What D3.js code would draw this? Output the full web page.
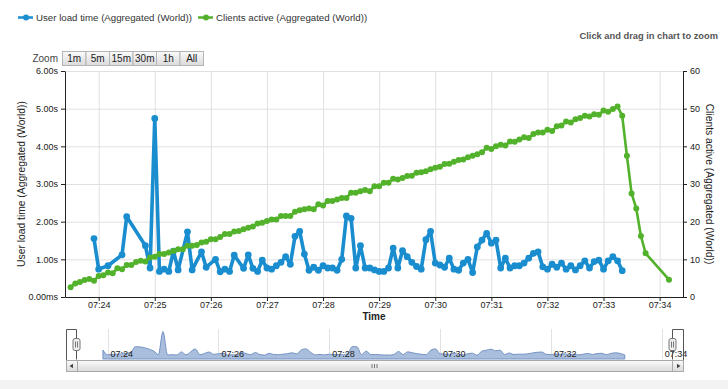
<!DOCTYPE html>
<html><head><meta charset="utf-8">
<script src="https://cdn.jsdelivr.net/npm/d3@7"></script>
<style>body{margin:0;background:#fff;overflow:hidden}svg{display:block}</style>
</head><body><svg id="c" width="728" height="389"></svg>
<script>
// ---------- data ----------
const seriesNames = ["User load time (Aggregated (World))", "Clients active (Aggregated (World))"];
const loadTimes = ["07:23:55","07:24:00","07:24:10","07:24:25","07:24:30","07:24:50","07:24:55",
"07:25:00","07:25:05","07:25:10","07:25:15","07:25:20","07:25:25","07:25:35","07:25:40","07:25:50","07:25:55",
"07:26:05","07:26:10","07:26:15","07:26:20","07:26:25","07:26:35","07:26:40","07:26:45","07:26:50","07:26:55",
"07:27:00","07:27:05","07:27:10","07:27:15","07:27:20","07:27:25","07:27:30","07:27:35","07:27:40","07:27:45","07:27:50","07:27:55",
"07:28:00","07:28:05","07:28:10","07:28:15","07:28:20","07:28:25","07:28:30","07:28:35","07:28:40","07:28:45","07:28:50","07:28:55",
"07:29:00","07:29:05","07:29:10","07:29:15","07:29:20","07:29:25","07:29:30","07:29:35","07:29:40","07:29:45","07:29:50","07:29:55",
"07:30:00","07:30:05","07:30:10","07:30:15","07:30:20","07:30:25","07:30:30","07:30:35","07:30:40","07:30:45","07:30:50","07:30:55",
"07:31:00","07:31:05","07:31:10","07:31:15","07:31:20","07:31:25","07:31:30","07:31:35","07:31:40","07:31:45","07:31:50","07:31:55",
"07:32:00","07:32:05","07:32:10","07:32:15","07:32:20","07:32:25","07:32:30","07:32:35","07:32:40","07:32:45","07:32:50","07:32:55",
"07:33:00","07:33:05","07:33:10","07:33:15","07:33:20"];
const loadValues = [1.55,0.74,0.83,1.12,2.13,1.36,0.77,
4.74,0.68,0.74,0.68,1.22,0.72,1.73,0.72,1.20,0.79,
1.00,0.67,0.74,0.68,1.11,0.76,1.12,0.76,0.68,0.98,
0.77,0.74,0.83,0.92,1.07,0.87,1.61,1.74,1.14,0.71,0.79,0.71,
0.83,0.77,0.77,0.71,1.00,2.15,2.09,0.77,1.36,0.77,0.77,0.72,
0.68,0.68,0.77,1.30,0.77,1.23,1.07,0.92,0.81,0.74,1.52,1.74,
0.90,0.85,0.79,1.03,0.74,0.71,0.90,1.00,0.65,1.33,1.51,1.69,
1.43,1.51,0.77,1.03,0.77,0.83,0.83,0.90,1.03,1.16,1.20,0.80,
0.74,0.87,0.79,0.90,0.74,0.83,0.72,0.83,0.96,0.77,0.94,0.98,
0.74,0.96,1.07,0.96,0.70];

const clientTimes = ["07:23:30","07:23:35","07:23:40","07:23:45","07:23:50","07:23:55",
"07:24:00","07:24:05","07:24:10","07:24:15","07:24:20","07:24:25","07:24:30","07:24:35","07:24:40","07:24:45","07:24:50","07:24:55",
"07:25:00","07:25:05","07:25:10","07:25:15","07:25:20","07:25:25","07:25:30","07:25:35","07:25:40","07:25:45","07:25:50","07:25:55",
"07:26:00","07:26:05","07:26:10","07:26:15","07:26:20","07:26:25","07:26:30","07:26:35","07:26:40","07:26:45","07:26:50","07:26:55",
"07:27:00","07:27:05","07:27:10","07:27:15","07:27:20","07:27:25","07:27:30","07:27:35","07:27:40","07:27:45","07:27:50","07:27:55",
"07:28:00","07:28:05","07:28:10","07:28:15","07:28:20","07:28:25","07:28:30","07:28:35","07:28:40","07:28:45","07:28:50","07:28:55",
"07:29:00","07:29:05","07:29:10","07:29:15","07:29:20","07:29:25","07:29:30","07:29:35","07:29:40","07:29:45","07:29:50","07:29:55",
"07:30:00","07:30:05","07:30:10","07:30:15","07:30:20","07:30:25","07:30:30","07:30:35","07:30:40","07:30:45","07:30:50","07:30:55",
"07:31:00","07:31:05","07:31:10","07:31:15","07:31:20","07:31:25","07:31:30","07:31:35","07:31:40","07:31:45","07:31:50","07:31:55",
"07:32:00","07:32:05","07:32:10","07:32:15","07:32:20","07:32:25","07:32:30","07:32:35","07:32:40","07:32:45","07:32:50","07:32:55",
"07:33:00","07:33:05","07:33:10","07:33:15","07:33:20","07:33:25","07:33:30","07:33:35","07:33:40","07:33:45","07:34:10"];
const clientValues = [2.6,3.6,4.0,4.5,4.8,4.3,
5.6,5.8,6.5,6.3,7.6,7.4,8.5,8.5,9.3,9.6,9.4,10.5,
10.7,11.4,11.4,11.8,12.2,12.7,12.7,13.6,13.6,13.8,14.5,14.7,
15.3,15.3,15.9,16.7,16.7,17.4,17.5,18.0,18.4,18.7,19.5,19.7,
20.2,20.6,20.6,21.5,21.5,21.5,22.6,23.0,23.3,23.5,23.3,24.6,
24.3,25.5,25.5,25.9,26.3,26.3,27.7,27.7,28.1,28.4,28.1,29.4,
29.4,30.3,30.3,31.4,31.2,31.6,32.1,32.2,33.0,33.1,33.4,33.9,
34.3,34.6,35.3,35.4,35.9,36.4,36.5,37.1,37.5,37.9,38.4,39.6,
39.3,40.0,40.4,40.2,41.3,41.2,41.8,42.4,42.2,43.3,43.7,43.7,
44.4,44.1,45.3,45.5,46.6,46.3,47.2,47.5,48.1,47.9,48.5,48.4,
49.5,49.2,49.9,50.6,48.1,37.5,27.5,23.5,16.2,11.6,4.6];

const leftTicks = [0,1,2,3,4,5,6];
const leftTickLabels = ["0.00ms","1.00s","2.00s","3.00s","4.00s","5.00s","6.00s"];
const rightTicks = [0,10,20,30,40,50,60];
const xTickLabels = ["07:24","07:25","07:26","07:27","07:28","07:29","07:30","07:31","07:32","07:33","07:34"];
const navTickLabels = ["07:24","07:26","07:28","07:30","07:32","07:34"];
const xDomain = ["07:23:24","07:34:25"];
const navDomain = ["07:23:15","07:34:23"];
const zoomButtons = ["1m","5m","15m","30m","1h","All"];

// ---------- drawing ----------
const FONT = '"Liberation Sans", Arial, sans-serif';
const BLUE = "#1a8dcf", GREEN = "#52b22b";
const parseT = d3.timeParse("%H:%M:%S"), parseM = d3.timeParse("%H:%M");
const svg = d3.select("#c").style("font-family", FONT);

const P = {l:65, r:683, t:71, b:297};
const x = d3.scaleTime().domain(xDomain.map(parseT)).range([P.l, P.r]);
const yL = d3.scaleLinear().domain([0,6]).range([P.b, P.t]);
const yR = d3.scaleLinear().domain([0,60]).range([P.b, P.t]);
const xTicks = xTickLabels.map(parseM);

// defs
const defs = svg.append("defs");
const gr = defs.append("linearGradient").attr("id","btn").attr("x1",0).attr("y1",0).attr("x2",0).attr("y2",1);
gr.append("stop").attr("offset","0").attr("stop-color","#fbfbfb");
gr.append("stop").attr("offset","1").attr("stop-color","#dadada");

// bottom grey band
svg.append("rect").attr("x",0).attr("y",380).attr("width",728).attr("height",9).attr("fill","#f3f3f3");

// grid
svg.append("g").attr("transform",`translate(0,${P.b})`)
  .call(d3.axisBottom(x).tickValues(xTicks).tickSize(-(P.b-P.t)).tickFormat(""))
  .call(g=>{g.select(".domain").remove(); g.selectAll("line").attr("stroke","#e0e0e0");});
svg.append("g").attr("transform",`translate(${P.l},0)`)
  .call(d3.axisLeft(yL).tickValues(leftTicks).tickSize(-(P.r-P.l)).tickFormat(""))
  .call(g=>{g.select(".domain").remove(); g.selectAll("line").attr("stroke","#e0e0e0");});

// series
const loadData = loadTimes.map((t,i)=>({t:parseT(t), v:loadValues[i]}));
const clientData = clientTimes.map((t,i)=>({t:parseT(t), v:clientValues[i]}));

svg.append("path").datum(loadData)
  .attr("d", d3.line().x(d=>x(d.t)).y(d=>yL(d.v)))
  .attr("fill","none").attr("stroke",BLUE).attr("stroke-width",3.6).attr("stroke-linejoin","round");
svg.append("g").selectAll("circle").data(loadData).join("circle")
  .attr("cx",d=>x(d.t)).attr("cy",d=>yL(d.v)).attr("r",3.4).attr("fill",BLUE);

svg.append("path").datum(clientData)
  .attr("d", d3.line().x(d=>x(d.t)).y(d=>yR(d.v)))
  .attr("fill","none").attr("stroke",GREEN).attr("stroke-width",2.6).attr("stroke-linejoin","round");
svg.append("g").selectAll("circle").data(clientData).join("circle")
  .attr("cx",d=>x(d.t)).attr("cy",d=>yR(d.v)).attr("r",3.0).attr("fill",GREEN);

// axes
function styleAxis(g){
  g.select(".domain").attr("stroke","#222");
  g.selectAll(".tick line").attr("stroke","#222");
  g.selectAll(".tick text").attr("fill","#222").style("font-size","9px").style("font-family",FONT);
}
svg.append("g").attr("transform",`translate(${P.l},0)`)
  .call(d3.axisLeft(yL).tickValues(leftTicks).tickFormat((d,i)=>leftTickLabels[i]).tickSizeInner(4).tickSizeOuter(0).tickPadding(3))
  .call(styleAxis);
svg.append("g").attr("transform",`translate(${P.r},0)`)
  .call(d3.axisRight(yR).tickValues(rightTicks).tickSizeInner(4).tickSizeOuter(0).tickPadding(3))
  .call(styleAxis);
svg.append("g").attr("transform",`translate(0,${P.b})`)
  .call(d3.axisBottom(x).tickValues(xTicks).tickFormat(d3.timeFormat("%H:%M")).tickSizeInner(4).tickSizeOuter(0).tickPadding(1))
  .call(styleAxis);

// axis titles
svg.append("text").attr("transform",`translate(25,${(P.t+P.b)/2}) rotate(-90)`)
  .attr("text-anchor","middle").attr("fill","#222").style("font-size","10.3px").text(seriesNames[0]);
svg.append("text").attr("transform",`translate(705.5,${(P.t+P.b)/2}) rotate(90)`)
  .attr("text-anchor","middle").attr("fill","#222").style("font-size","10.3px").text(seriesNames[1]);
svg.append("text").attr("x",374).attr("y",320).attr("text-anchor","middle").attr("fill","#222")
  .style("font-size","10px").style("font-weight","bold").text("Time");

// legend
[[BLUE,18,seriesNames[0]],[GREEN,198,seriesNames[1]]].forEach(([c,lx,label])=>{
  svg.append("line").attr("x1",lx).attr("x2",lx+15).attr("y1",17.5).attr("y2",17.5).attr("stroke",c).attr("stroke-width",2.5);
  svg.append("circle").attr("cx",lx+8).attr("cy",17.5).attr("r",3).attr("fill",c);
  svg.append("text").attr("x",lx+18).attr("y",21).attr("fill","#333").style("font-size","9.7px").text(label);
});

// click and drag hint
svg.append("text").attr("x",718).attr("y",38.5).attr("text-anchor","end").attr("fill","#555")
  .style("font-size","9.3px").style("font-weight","bold").text("Click and drag in chart to zoom");

// zoom buttons
svg.append("text").attr("x",58).attr("y",62).attr("text-anchor","end").attr("fill","#444").style("font-size","10px").text("Zoom");
const bw = 23.5, bx0 = 62;
zoomButtons.forEach((b,i)=>{
  svg.append("rect").attr("x",bx0+i*bw+0.5).attr("y",51.5).attr("width",bw).attr("height",14)
    .attr("fill","url(#btn)").attr("stroke","#b5b5b5");
  svg.append("text").attr("x",bx0+i*bw+bw/2+0.5).attr("y",62).attr("text-anchor","middle").attr("fill","#222")
    .style("font-size","10px").text(b);
});

// navigator
const N = {l:66, r:683, t:329, b:359};
const nx = d3.scaleTime().domain(navDomain.map(parseT)).range([N.l, N.r]);
const ny = d3.scaleLinear().domain([0, d3.max(loadValues)]).range([N.b, N.t+2.5]);
const navTicks = navTickLabels.map(parseM);
navTicks.forEach((t,i)=>{
  svg.append("line").attr("x1",Math.round(nx(t))+0.5).attr("x2",Math.round(nx(t))+0.5).attr("y1",N.t).attr("y2",N.b)
    .attr("stroke","#e2e2e2");
});
svg.append("path").datum(loadData)
  .attr("d", d3.area().x(d=>nx(d.t)).y0(N.b).y1(d=>ny(d.v)).curve(d3.curveMonotoneX))
  .attr("fill","#a9bedd").attr("stroke","#7593c4").attr("stroke-width",1);
navTicks.forEach((t,i)=>{
  svg.append("text").attr("x",nx(t)+3).attr("y",357).attr("fill","#222").style("font-size","9px").text(navTickLabels[i]);
});

// scrollbar
svg.append("rect").attr("x",N.l+0.5).attr("y",360.5).attr("width",N.r-N.l).attr("height",11).attr("rx",2)
  .attr("fill","#e6e6e6").attr("stroke","#a8a8a8");
svg.append("rect").attr("x",77.5).attr("y",360.5).attr("width",672-77).attr("height",11)
  .attr("fill","url(#btn)").attr("stroke","#a8a8a8");
[372,374.5,377].forEach(gx=>svg.append("line").attr("x1",gx).attr("x2",gx).attr("y1",364).attr("y2",368).attr("stroke","#777"));
svg.append("rect").attr("x",N.l+0.5).attr("y",360.5).attr("width",11).attr("height",11).attr("fill","url(#btn)").attr("stroke","#a8a8a8");
svg.append("rect").attr("x",672.5).attr("y",360.5).attr("width",11).attr("height",11).attr("fill","url(#btn)").attr("stroke","#a8a8a8");
svg.append("path").attr("d","M69.5,366 L73,363.8 L73,368.2 Z").attr("fill","#444");
svg.append("path").attr("d","M680.5,366 L677,363.8 L677,368.2 Z").attr("fill","#444");

// navigator outline + handles
svg.append("path").attr("d","M66.5,360 V329.5 H76.5 V359.5 M672.5,359.5 V329.5 H683.5 V360")
  .attr("fill","none").attr("stroke","#555");
[76.5,672.5].forEach(hx=>{
  svg.append("rect").attr("x",hx-3.5).attr("y",338.5).attr("width",7).attr("height",12).attr("rx",2)
    .attr("fill","#eee").attr("stroke","#777");
  svg.append("line").attr("x1",hx-1).attr("x2",hx-1).attr("y1",341.5).attr("y2",347.5).attr("stroke","#777");
  svg.append("line").attr("x1",hx+1).attr("x2",hx+1).attr("y1",341.5).attr("y2",347.5).attr("stroke","#777");
});
</script></body></html>
